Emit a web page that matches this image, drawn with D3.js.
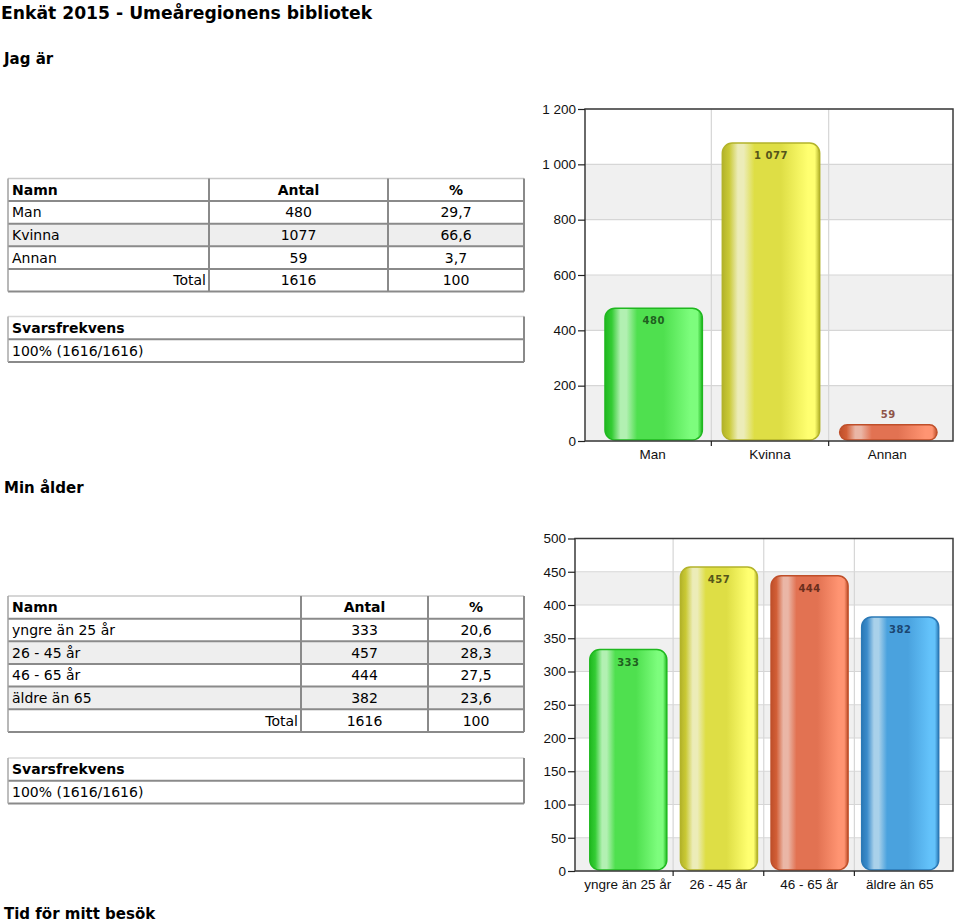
<!DOCTYPE html>
<html>
<head>
<meta charset="utf-8">
<script src="https://cdn.jsdelivr.net/npm/d3@7"></script>
<style>
html,body{margin:0;padding:0;background:#fff;}
svg{display:block;}
</style>
</head>
<body>
<svg id="page" width="960" height="923"></svg>
<script>
// ---------- DATA ----------
const pageTitle = "Enkät 2015 - Umeåregionens bibliotek";
const q1Title = "Jag är";
const q2Title = "Min ålder";
const q3Title = "Tid för mitt besök";

const genderCats = ["Man", "Kvinna", "Annan"];
const genderCounts = [480, 1077, 59];
const genderPct = ["29,7", "66,6", "3,7"];
const genderTotal = ["1616", "100"];
const genderResp = "100% (1616/1616)";
const genderTicks = [0, 200, 400, 600, 800, 1000, 1200];

const ageCats = ["yngre än 25 år", "26 - 45 år", "46 - 65 år", "äldre än 65"];
const ageCounts = [333, 457, 444, 382];
const agePct = ["20,6", "28,3", "27,5", "23,6"];
const ageTotal = ["1616", "100"];
const ageResp = "100% (1616/1616)";
const ageTicks = [0, 50, 100, 150, 200, 250, 300, 350, 400, 450, 500];

const tableHeaders = ["Namn", "Antal", "%"];
const respHeader = "Svarsfrekvens";
const totalLabel = "Total";

// ---------- STYLE ----------
const palette = {
  green:  {edge:"#1fb81f", dark:"#34cc34", hi:"#b2f0b2", base:"#4fe04f", light:"#7dfd7d", label:"#1f5f1f"},
  yellow: {edge:"#b3b32a", dark:"#c9c935", hi:"#ececb8", base:"#dede45", light:"#ffff70", label:"#55551a"},
  orange: {edge:"#bf4f2a", dark:"#d25e36", hi:"#eab6a6", base:"#e27252", light:"#ff9472", label:"#6a2e1c"},
  blue:   {edge:"#2b79b6", dark:"#3a8bcb", hi:"#a9d1ea", base:"#4aa2de", light:"#63c2fa", label:"#1c4670"}
};
const genderColors = ["green", "yellow", "orange"];
const ageColors = ["green", "yellow", "orange", "blue"];
const annanLabelColor = "#8e5448";

const svg = d3.select("#page");
const FONT = "'DejaVu Sans', Verdana, sans-serif";
const CFONT = "'Liberation Sans', Arial, sans-serif";
const nf = d3.formatLocale({decimal:",", thousands:"\u00a0", grouping:[3], currency:["",""]}).format(",d");

// gradients
const defs = svg.append("defs");
Object.entries(palette).forEach(([k, c]) => {
  const g = defs.append("linearGradient").attr("id", "g-" + k)
    .attr("x1", 0).attr("x2", 1).attr("y1", 0).attr("y2", 0);
  [[0, c.edge], [0.07, c.dark], [0.16, c.hi], [0.22, c.hi], [0.33, c.base], [0.6, c.base], [0.88, c.light], [0.95, c.light], [1, c.edge]]
    .forEach(([o, col]) => g.append("stop").attr("offset", o).attr("stop-color", col));
});

// ---------- HEADINGS ----------
svg.append("text").attr("x", 1).attr("y", 19).attr("font-family", FONT).attr("font-weight", "bold")
  .attr("font-size", 17.2).attr("fill", "#000").text(pageTitle);
[[q1Title, 64], [q2Title, 493], [q3Title, 919]].forEach(([t, y]) => {
  svg.append("text").attr("x", 4).attr("y", y).attr("font-family", FONT).attr("font-weight", "bold")
    .attr("font-size", 15).attr("fill", "#000").text(t);
});

// ---------- TABLES ----------
function drawTable(cfg) {
  const g = svg.append("g");
  const {x0, xs, x3, top, rh, cats, counts, pct, total, grayRows} = cfg;
  const nRows = cats.length + 2;
  const rowsY = d3.range(nRows + 1).map(i => top + i * rh);
  cats.forEach((c, i) => {
    if (grayRows.includes(i)) {
      g.append("rect").attr("x", x0).attr("y", rowsY[i + 1]).attr("width", x3 - x0).attr("height", rh).attr("fill", "#eeeeee");
    }
  });
  g.append("line").attr("x1", x0).attr("x2", x3).attr("y1", rowsY[0]).attr("y2", rowsY[0]).attr("stroke", "#c8c8c8").attr("stroke-width", 1.5);
  rowsY.slice(1).forEach(y => g.append("line").attr("x1", x0).attr("x2", x3).attr("y1", y).attr("y2", y).attr("stroke", "#8a8a8a").attr("stroke-width", 2));
  g.append("line").attr("x1", x0).attr("x2", x0).attr("y1", rowsY[0]).attr("y2", rowsY[nRows]).attr("stroke", "#a0a0a0").attr("stroke-width", 1.5);
  [xs[0], xs[1], x3].forEach(x => g.append("line").attr("x1", x).attr("x2", x).attr("y1", rowsY[0]).attr("y2", rowsY[nRows]).attr("stroke", "#8a8a8a").attr("stroke-width", 2));
  const c2 = (xs[0] + xs[1]) / 2, c3 = (xs[1] + x3) / 2;
  const base = i => rowsY[i] + rh / 2 + 5;
  const txt = (x, y, t, anchor, bold) => g.append("text").attr("x", x).attr("y", y)
    .attr("font-family", FONT).attr("font-size", 14).attr("font-weight", bold ? "bold" : "normal")
    .attr("text-anchor", anchor).attr("fill", "#000").text(t);
  txt(x0 + 4, base(0), tableHeaders[0], "start", true);
  txt(c2, base(0), tableHeaders[1], "middle", true);
  txt(c3, base(0), tableHeaders[2], "middle", true);
  cats.forEach((c, i) => {
    txt(x0 + 4, base(i + 1), c, "start", false);
    txt(c2, base(i + 1), String(counts[i]), "middle", false);
    txt(c3, base(i + 1), pct[i], "middle", false);
  });
  const ti = cats.length + 1;
  txt(xs[0] - 3, base(ti), totalLabel, "end", false);
  txt(c2, base(ti), total[0], "middle", false);
  txt(c3, base(ti), total[1], "middle", false);
}

function drawResp(cfg) {
  const g = svg.append("g");
  const {x0, x3, top, rh, text} = cfg;
  g.append("line").attr("x1", x0).attr("x2", x3).attr("y1", top).attr("y2", top).attr("stroke", "#d8d8d8").attr("stroke-width", 1.5);
  [top + rh, top + 2 * rh].forEach(y => g.append("line").attr("x1", x0).attr("x2", x3).attr("y1", y).attr("y2", y).attr("stroke", "#8a8a8a").attr("stroke-width", 2));
  g.append("line").attr("x1", x0).attr("x2", x0).attr("y1", top).attr("y2", top + 2 * rh).attr("stroke", "#a8a8a8").attr("stroke-width", 1.5);
  g.append("line").attr("x1", x3).attr("x2", x3).attr("y1", top).attr("y2", top + 2 * rh).attr("stroke", "#8a8a8a").attr("stroke-width", 2);
  g.append("text").attr("x", x0 + 4).attr("y", top + rh / 2 + 5).attr("font-family", FONT).attr("font-size", 14)
    .attr("font-weight", "bold").text(respHeader);
  g.append("text").attr("x", x0 + 4).attr("y", top + rh * 1.5 + 5).attr("font-family", FONT).attr("font-size", 14)
    .text(text);
}

drawTable({x0: 8, xs: [209, 388], x3: 524, top: 178.5, rh: 22.6, cats: genderCats, counts: genderCounts,
  pct: genderPct, total: genderTotal, grayRows: [1]});
drawResp({x0: 8, x3: 524, top: 316.5, rh: 22.8, text: genderResp});

drawTable({x0: 8, xs: [301, 428], x3: 524, top: 596, rh: 22.65, cats: ageCats, counts: ageCounts,
  pct: agePct, total: ageTotal, grayRows: [1, 3]});
drawResp({x0: 8, x3: 524, top: 758, rh: 22.8, text: ageResp});

// ---------- CHARTS ----------
function drawChart(cfg) {
  const {frame, bandRange, cats, counts, ticks, colors, barFrac, labelColors} = cfg;
  const g = svg.append("g");
  const y = d3.scaleLinear().domain([0, d3.max(ticks)]).range([frame.bottom, frame.top]);
  const x = d3.scaleBand().domain(cats).range(bandRange).paddingInner(0).paddingOuter(0);

  for (let i = 0; i < ticks.length - 1; i++) {
    g.append("rect").attr("x", frame.left).attr("width", frame.right - frame.left)
      .attr("y", y(ticks[i + 1])).attr("height", y(ticks[i]) - y(ticks[i + 1]))
      .attr("fill", i % 2 === 0 ? "#f0f0f0" : "#ffffff");
  }
  ticks.forEach(t => g.append("line").attr("x1", frame.left).attr("x2", frame.right)
    .attr("y1", y(t)).attr("y2", y(t)).attr("stroke", "#d6d6d6").attr("stroke-width", 1.2));
  cats.slice(1).forEach(c => g.append("line").attr("x1", x(c)).attr("x2", x(c))
    .attr("y1", frame.top).attr("y2", frame.bottom).attr("stroke", "#d6d6d6").attr("stroke-width", 1.2));

  const bw = x.bandwidth() * barFrac;
  cats.forEach((c, i) => {
    const cx = x(c) + x.bandwidth() / 2 + cfg.barShift;
    const top = y(counts[i]);
    const bot = y(0) - 1;
    const col = palette[colors[i]];
    g.append("rect").attr("x", cx - bw / 2).attr("y", top).attr("width", bw).attr("height", bot - top)
      .attr("rx", Math.min(10, (bot - top) / 2)).attr("ry", Math.min(10, (bot - top) / 2))
      .attr("fill", "url(#g-" + colors[i] + ")").attr("stroke", col.edge).attr("stroke-width", 1.5);
    const inside = (bot - top) > 30;
    g.append("text").attr("x", cx).attr("y", inside ? top + 16 : top - 7)
      .attr("text-anchor", "middle").attr("font-family", FONT).attr("font-weight", "bold")
      .attr("font-size", 10).attr("letter-spacing", 0.5)
      .attr("fill", labelColors ? labelColors[i] : col.label).text(nf(counts[i]));
  });

  g.append("rect").attr("x", frame.left).attr("y", frame.top).attr("width", frame.right - frame.left)
    .attr("height", frame.bottom - frame.top).attr("fill", "none").attr("stroke", "#3a3a3a").attr("stroke-width", 1.5);

  const ya = d3.axisLeft(y).tickValues(ticks).tickSize(7).tickPadding(2).tickFormat(nf);
  const yg = g.append("g").attr("transform", `translate(${frame.left},0)`).call(ya);
  yg.select(".domain").remove();
  yg.selectAll(".tick line").attr("stroke", "#222").attr("stroke-width", 1.2);
  yg.selectAll(".tick text").attr("font-family", CFONT).attr("font-size", 13.5).attr("fill", "#111");

  const xa = d3.axisBottom(x).tickSize(0).tickPadding(8);
  const xg = g.append("g").attr("transform", `translate(0,${frame.bottom})`).call(xa);
  xg.select(".domain").remove();
  xg.selectAll(".tick text").attr("font-family", CFONT).attr("font-size", 13.5).attr("fill", "#111");
  cats.slice(1).forEach(c => g.append("line").attr("x1", x(c)).attr("x2", x(c))
    .attr("y1", frame.bottom).attr("y2", frame.bottom + 5).attr("stroke", "#222").attr("stroke-width", 1.2));
}

drawChart({
  frame: {left: 585, right: 953, top: 109, bottom: 441},
  bandRange: [594, 946], cats: genderCats, counts: genderCounts, ticks: genderTicks,
  colors: genderColors, barFrac: 0.83, barShift: 1,
  labelColors: [palette.green.label, palette.yellow.label, annanLabelColor]
});
drawChart({
  frame: {left: 575, right: 953, top: 538.5, bottom: 871},
  bandRange: [582.5, 945], cats: ageCats, counts: ageCounts, ticks: ageTicks,
  colors: ageColors, barFrac: 0.85, barShift: 0.5
});
</script>
</body>
</html>
